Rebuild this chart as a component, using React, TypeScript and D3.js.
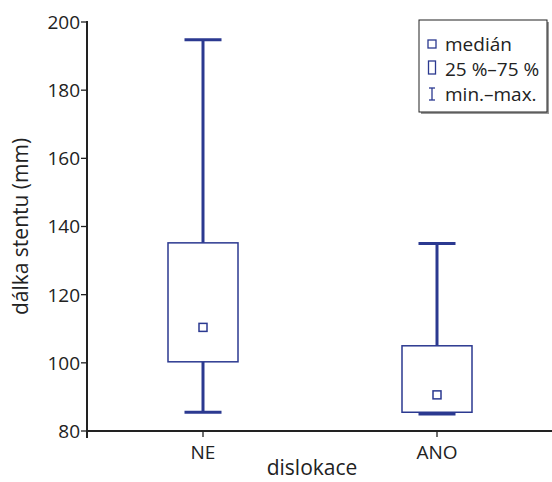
import React from 'react'
import * as d3 from 'd3'

const categories = ['NE', 'ANO']
const mins = [85.5, 85]
const q1s = [100.3, 85.5]
const medians = [110.4, 90.6]
const q3s = [135.2, 105]
const maxs = [194.8, 135]
const yTicks = [80, 100, 120, 140, 160, 180, 200]
const legendLabels = ['medián', '25 %–75 %', 'min.–max.']

const W = 552
const H = 482
const m = { left: 87, top: 22, bottom: 51 }
const navy = '#2b3990'
const ink = '#222'
const font = 'Open Sans, sans-serif'

export default function App() {
  const y = d3.scaleLinear().domain([80, 200]).range([H - m.bottom, m.top])
  const x = d3.scalePoint().domain(categories).range([203, 437])
  const boxW = 70
  const capW = 37

  return (
    <svg width={W} height={H} style={{ position: 'absolute', left: 0, top: 0 }}>
      <rect width={W} height={H} fill="white" />
      {categories.map((c, i) => {
        const cx = x(c)!
        return (
          <g key={c}>
            <line x1={cx} x2={cx} y1={y(maxs[i])} y2={y(q3s[i])} stroke={navy} strokeWidth={3} />
            <line x1={cx} x2={cx} y1={y(q1s[i])} y2={y(mins[i])} stroke={navy} strokeWidth={3} />
            <line x1={cx - capW / 2} x2={cx + capW / 2} y1={y(maxs[i])} y2={y(maxs[i])} stroke={navy} strokeWidth={3} />
            <line x1={cx - capW / 2} x2={cx + capW / 2} y1={y(mins[i])} y2={y(mins[i])} stroke={navy} strokeWidth={3} />
            <rect x={cx - boxW / 2} y={y(q3s[i])} width={boxW} height={y(q1s[i]) - y(q3s[i])}
              fill="white" stroke={navy} strokeWidth={1.5} />
            <rect x={cx - 4} y={y(medians[i]) - 4} width={8} height={8} fill="white" stroke={navy} strokeWidth={1.5} />
          </g>
        )
      })}
      {/* axes */}
      <line x1={m.left} x2={W} y1={y(80)} y2={y(80)} stroke={ink} strokeWidth={2} />
      <line x1={m.left} x2={m.left} y1={y(200) - 1} y2={y(80) + 7} stroke={ink} strokeWidth={2} />
      {yTicks.map((t) => (
        <g key={t}>
          <line x1={m.left - 6} x2={m.left} y1={y(t)} y2={y(t)} stroke={ink} strokeWidth={1.3} />
          <text x={m.left - 7} y={y(t)} dy="0.36em" textAnchor="end" fontSize={19} fontFamily={font} fill={ink}>{t}</text>
        </g>
      ))}
      {categories.map((c) => (
        <g key={c}>
          <line x1={x(c)!} x2={x(c)!} y1={y(80)} y2={y(80) + 6} stroke={ink} strokeWidth={1.3} />
          <text x={x(c)!} y={y(80) + 28} textAnchor="middle" fontSize={19} fontFamily={font} fill={ink}>{c}</text>
        </g>
      ))}
      <text x={312} y={475} textAnchor="middle" fontSize={21} fontFamily={font} fill={ink}>dislokace</text>
      <text transform={`translate(28,${(y(80) + y(200)) / 2}) rotate(-90)`} textAnchor="middle" fontSize={21} fontFamily={font} fill={ink}>dálka stentu (mm)</text>
      {/* legend */}
      <rect x={421} y={22} width={128} height={92} fill="#999" />
      <rect x={419} y={20} width={128} height={92} fill="white" stroke={ink} strokeWidth={1} />
      <rect x={428} y={40} width={8} height={8} fill="white" stroke={navy} strokeWidth={1.3} />
      <rect x={428.5} y={61} width={7} height={13} fill="white" stroke={navy} strokeWidth={1.3} />
      <g stroke={navy} strokeWidth={1.3}>
        <line x1={432} x2={432} y1={88} y2={100} />
        <line x1={429} x2={435} y1={88} y2={88} />
        <line x1={429} x2={435} y1={100} y2={100} />
      </g>
      {legendLabels.map((l, i) => (
        <text key={l} x={445} y={51 + i * 25} fontSize={19} fontFamily={font} fill={ink}>{l}</text>
      ))}
    </svg>
  )
}
